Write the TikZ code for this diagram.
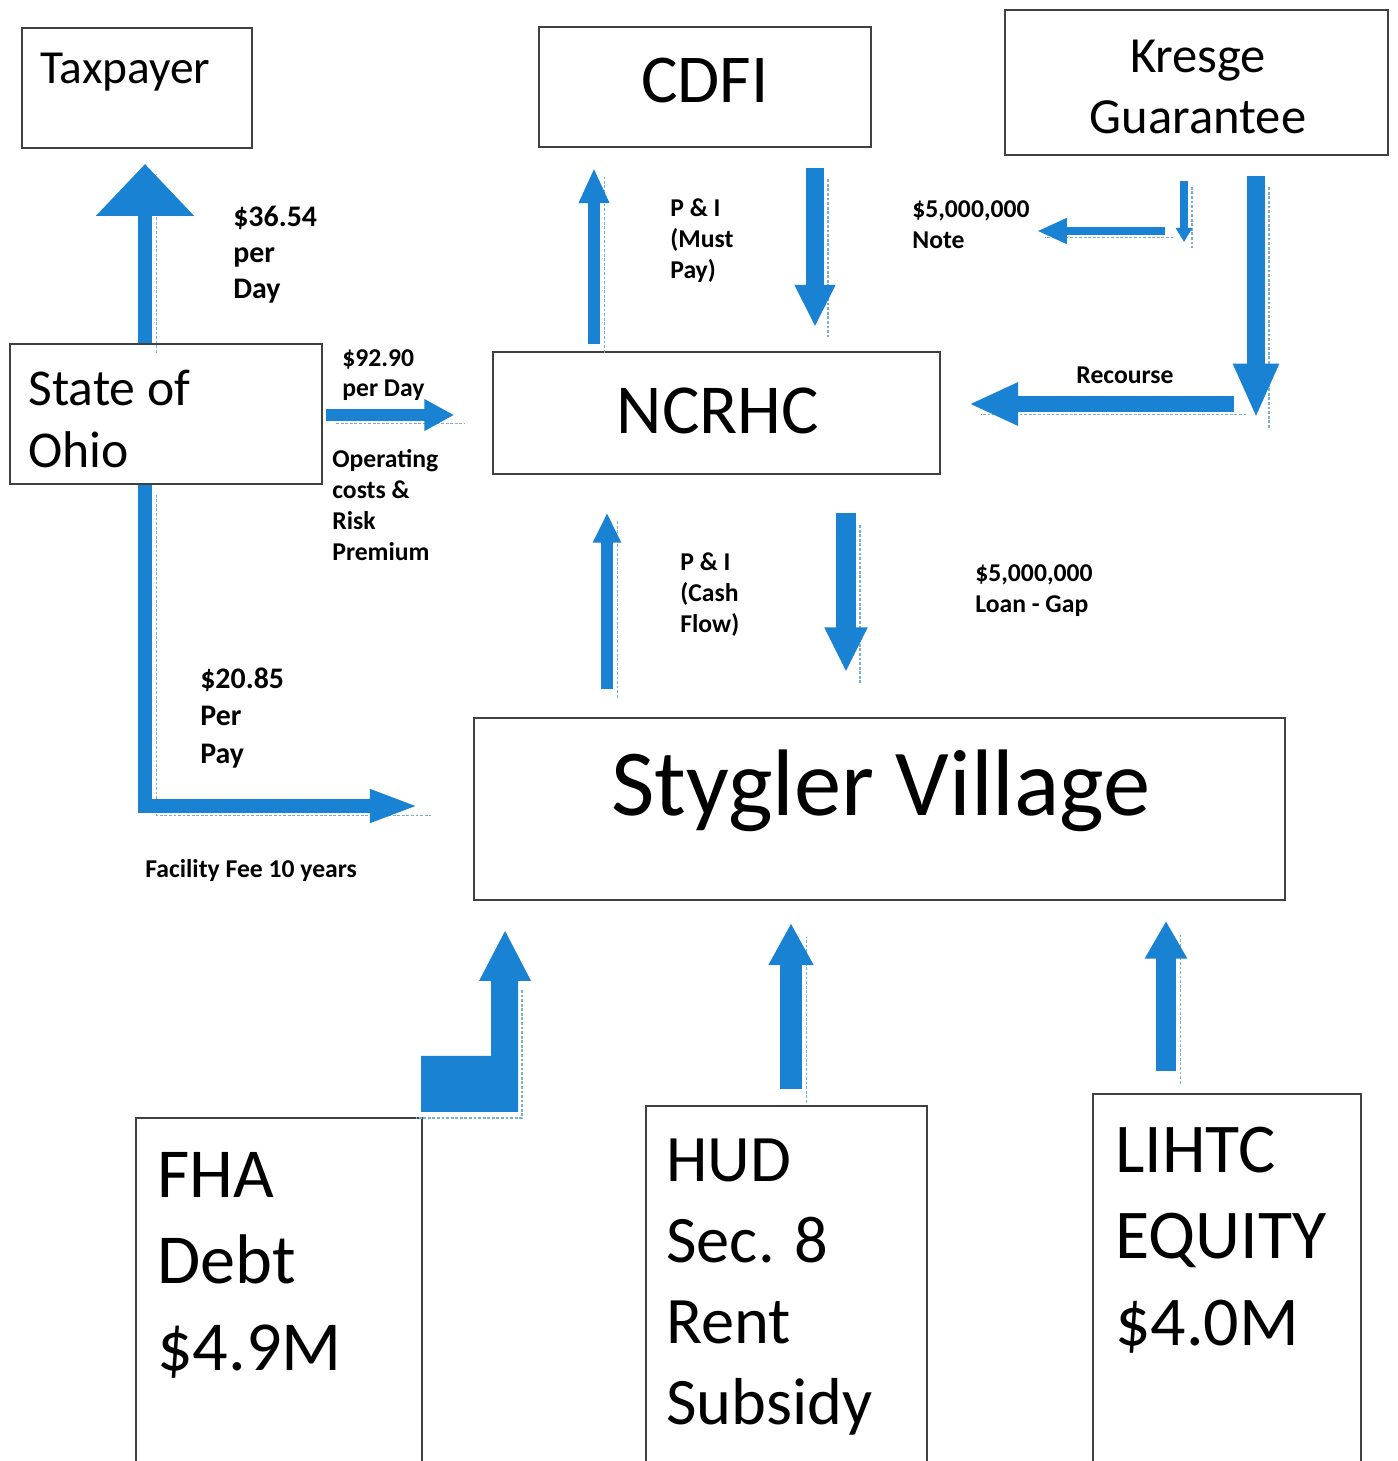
\documentclass[tikz,border=0pt]{standalone}
\usepackage{fontspec}
\setmainfont{Carlito}
\usetikzlibrary{arrows.meta,fit}
\definecolor{flowblue}{RGB}{25,130,210}
\definecolor{ghostblue}{RGB}{120,175,215}
\newcommand\fsz[2]{\fontsize{#1}{#2}\selectfont}

\begin{document}
\begin{tikzpicture}[
            x=0.02cm, y=-0.02cm,
            every node/.style={black, inner sep=0pt},
            box/.style={draw=black!75, line width=1.2pt, fit={#1}},
            ghost/.style={draw=ghostblue, line width=0.9pt, dash pattern=on 1.6pt off 1pt},
            flow/.style n args={3}{draw=flowblue, line width=#1, -{Triangle[length=#2, width=#3]},
                preaction={ghost, -, transform canvas={shift={(0.5*#1+2.5pt,-0.5*#1-1.5pt)}}}},
            txt/.style={anchor=base west, align=left},
            small/.style={txt, font=\bfseries\fsz{14.6}{17.6}}
        ]
            \useasboundingbox (0,0) rectangle (1397,1461);
            \fill[white] (0,0) rectangle (1397,1461);
            \clip (0,0) rectangle (1397,1461);

            \node[box={(22,28) (252,148)}] (taxpayer) {};
            \node[box={(539,27) (871,147)}] (cdfi) {};
            \node[box={(1005,10) (1388,155)}] (kresge) {};
            \node[box={(10,344) (322,484)}] (ohio) {};
            \node[box={(493,352) (940,474)}] (ncrhc) {};
            \node[box={(474,718) (1285,900)}] (stygler) {};
            \node[box={(136,1118) (422,1480)}] (fha) {};
            \node[box={(646,1106) (927,1480)}] (hud) {};
            \node[box={(1093,1094) (1361,1480)}] (lihtc) {};

            \node[txt, font=\fsz{27}{32}] (taxpayertxt) at (40,83) {Taxpayer};
            \node[anchor=base, font=\fsz{39}{46}] (cdfitxt) at (705,102) {CDFI};
            \node[anchor=base, align=center, font=\fsz{28.8}{34.6}] (kresgetxt) at (1198,133) {Kresge\\Guarantee};
            \node[txt, font=\fsz{29.4}{35}] (ohiotxt) at (28,467) {State of\\Ohio};
            \node[anchor=base, font=\fsz{40}{48}] (ncrhctxt) at (718,433) {NCRHC};
            \node[anchor=base, font=\fsz{53.8}{64}] (styglertxt) at (881,815) {Stygler Village};
            \node[txt, font=\fsz{40}{49}] (fhatxt) at (157,1370) {FHA\\Debt\\\$4.9M};
            \node[txt, font=\fsz{37.8}{46.1}] (hudtxt) at (666,1424) {HUD\\Sec. 8\\Rent\\Subsidy};
            \node[txt, font=\fsz{39.8}{49}] (lihtctxt) at (1115,1345) {LIHTC\\EQUITY\\\$4.0M};

            \node[small, font=\bfseries\fsz{17}{20.4}] (taxrate) at (233,298) {\$36.54\\per\\Day};
            \node[small, font=\bfseries\fsz{14.6}{17}] (opsrate) at (342,396) {\$92.90\\per Day};
            \node[small] (opsnote) at (332,560) {Operating\\costs \&\\Risk\\Premium};
            \node[small] (mustpay) at (670,278) {P \& I\\(Must\\Pay)};
            \node[small] (note) at (912,248) {\$5,000,000\\Note};
            \node[small, anchor=base] (recourse) at (1125,383) {Recourse};
            \node[small] (cashflow) at (680,632) {P \& I\\(Cash\\Flow)};
            \node[small] (loangap) at (975,612) {\$5,000,000\\Loan - Gap};
            \node[small, font=\bfseries\fsz{17}{21.3}] (feerate) at (200,763) {\$20.85\\Per\\Pay};
            \node[small] (feenote) at (145,877) {Facility Fee 10 years};

            \coordinate (noteturn) at (1184,242);
            \coordinate (notestart) at (1165,231);
            \coordinate (recturn) at (1256,418);
            \coordinate (recstart) at (1234,404);

            \draw[flow={8pt}{29.5pt}{54pt}, shorten >=8.5pt] (145,0 |- ohio.north) -- (145,0 |- taxpayer.south);
            \draw[flow={8pt}{28pt}{17pt}, shorten >=30.6pt] (145,0 |- ohio.south) |- (stygler.west |- 0,806);
            \draw[flow={6.5pt}{17pt}{17pt}, shorten <=1.7pt, shorten >=21.5pt] (ohio.east |- 0,415) -- (ncrhc.west |- 0,415);
            \draw[flow={6.8pt}{20pt}{16pt}, shorten <=4pt, shorten >=11.3pt] (594,0 |- ncrhc.north) -- (594,0 |- cdfi.south);
            \draw[flow={10pt}{24pt}{21.5pt}, shorten <=11.3pt, shorten >=13.6pt] (815,0 |- cdfi.south) -- (815,0 |- ncrhc.north);
            \draw[flow={4pt}{8pt}{9pt}, shorten <=14pt] (1184,0 |- kresge.south) -- (noteturn);
            \draw[flow={4.5pt}{17pt}{13.6pt}] (notestart) -- ++(-128,0);
            \draw[flow={10pt}{31pt}{24pt}, shorten <=11.3pt] (1256,0 |- kresge.south) -- (recturn);
            \draw[flow={9pt}{28pt}{22.7pt}, shorten >=15.9pt] (recstart) -- (ncrhc.east |- recstart);
            \draw[flow={6.8pt}{17pt}{15pt}, shorten <=15.9pt, shorten >=21.5pt] (607,0 |- stygler.north) -- (607,0 |- ncrhc.south);
            \draw[flow={11pt}{25.5pt}{22.7pt}, shorten <=21.5pt, shorten >=25.5pt] (846,0 |- ncrhc.south) -- (846,0 |- stygler.north);
            \draw[ghost] (522,990) -- (522,1118) -- (416,1118);
            \fill[flowblue] (fha.north east) ++(-2,-5) -- ++(0,-56) -- ++(70,0) -- ++(0,-75) -- ++(-12,0)
                -- ++(26,-50) -- ++(26,50) -- ++(-13,0) -- ++(0,131) -- cycle;
            \draw[flow={12.5pt}{24pt}{24pt}, shorten <=9pt, shorten >=12.5pt] (791,0 |- hud.north) -- (791,0 |- stygler.south);
            \draw[flow={11.3pt}{21.5pt}{22.7pt}, shorten <=12.5pt, shorten >=11.3pt] (1166,0 |- lihtc.north) -- (1166,0 |- stygler.south);
        \end{tikzpicture}
\end{document}
